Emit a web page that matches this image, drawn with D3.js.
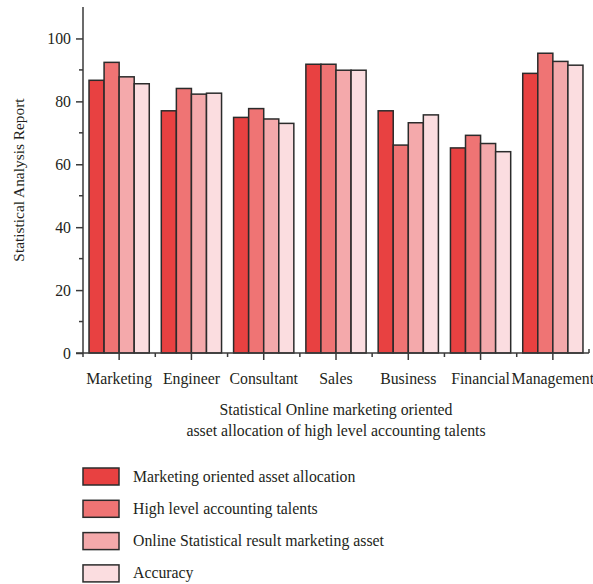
<!DOCTYPE html>
<html>
<head>
<meta charset="utf-8">
<script src="https://cdn.jsdelivr.net/npm/d3@7"></script>
<style>
  html, body { margin: 0; padding: 0; background: #fff; }
  svg { display: block; }
  text { font-family: "Liberation Serif", "DejaVu Serif", serif; fill: #231f20; }
</style>
</head>
<body>
<svg id="chart" width="593" height="584"></svg>
<script>
// Job categories along the x axis
const categories = ["Marketing", "Engineer", "Consultant", "Sales", "Business", "Financial", "Management"];

// One array per series, in category order
const seriesNames = [
  "Marketing oriented asset allocation",
  "High level accounting talents",
  "Online Statistical result marketing asset",
  "Accuracy"
];
const marketingAsset = [86.7, 77.0, 74.9, 91.8, 77.0, 65.2, 88.9];
const accountingTalents = [92.4, 84.1, 77.7, 91.8, 66.1, 69.2, 95.3];
const onlineResult = [87.8, 82.3, 74.4, 89.9, 73.2, 66.6, 92.7];
const accuracy = [85.6, 82.6, 73.0, 89.9, 75.7, 64.0, 91.5];
const seriesValues = [marketingAsset, accountingTalents, onlineResult, accuracy];

const seriesColors = ["#e84141", "#ef7474", "#f4a9ab", "#fbdde0"];

const yTicks = [0, 20, 40, 60, 80, 100];
const yMinorTicks = [10, 30, 50, 70, 90];

const FONT = "15.8px";
const svg = d3.select("#chart");
const plot = { left: 83, right: 589, top: 7, bottom: 353 };

const x = d3.scaleBand().domain(categories).range([plot.left, plot.right]).paddingInner(12 / 72).paddingOuter(6 / 72);
const xOuter = d3.scaleBand().domain(categories).range([plot.left, plot.right]);
const xInner = d3.scaleBand().domain(d3.range(seriesNames.length)).range([0, x.bandwidth()]);
const y = d3.scaleLinear().domain([0, 110]).range([plot.bottom, plot.top]);

// Bars
const groups = svg.append("g").selectAll("g")
  .data(categories)
  .join("g")
  .attr("transform", d => `translate(${x(d)},0)`);

groups.selectAll("rect")
  .data((c, ci) => seriesValues.map((vals, si) => ({ si, v: vals[ci] })))
  .join("rect")
  .attr("x", d => xInner(d.si))
  .attr("width", xInner.bandwidth())
  .attr("y", d => y(d.v))
  .attr("height", d => y(0) - y(d.v))
  .attr("fill", d => seriesColors[d.si])
  .attr("stroke", "#2b2b2b")
  .attr("stroke-width", 1.5);

// Y axis
const yAxis = svg.append("g").attr("transform", `translate(${plot.left},0)`);
yAxis.call(d3.axisLeft(y).tickValues(yTicks).tickSize(7).tickPadding(5).tickSizeOuter(0))
  .call(g => g.select(".domain").remove());
yAxis.selectAll(".tick line").attr("stroke", "#3a3a3a").attr("stroke-width", 1.5);
yAxis.selectAll(".tick text").style("font-size", FONT).style("font-family", "Liberation Serif, serif").attr("fill", "#231f20");
yAxis.selectAll(".minor").data(yMinorTicks).join("line")
  .attr("x1", -4).attr("x2", 0)
  .attr("y1", d => y(d)).attr("y2", d => y(d))
  .attr("stroke", "#3a3a3a").attr("stroke-width", 1.5);
yAxis.append("line")
  .attr("x1", 0).attr("x2", 0)
  .attr("y1", plot.top).attr("y2", plot.bottom + 4)
  .attr("stroke", "#3a3a3a").attr("stroke-width", 1.5);

// X axis
const xAxis = svg.append("g").attr("transform", `translate(0,${plot.bottom})`);
xAxis.append("line")
  .attr("x1", plot.left - 7).attr("x2", plot.right)
  .attr("stroke", "#3a3a3a").attr("stroke-width", 1.5);
xAxis.selectAll(".major").data(categories).join("line")
  .attr("x1", d => x(d) + x.bandwidth() / 2).attr("x2", d => x(d) + x.bandwidth() / 2)
  .attr("y1", 0).attr("y2", 7)
  .attr("stroke", "#3a3a3a").attr("stroke-width", 1.5);
xAxis.selectAll(".bound").data(categories.slice(1)).join("line")
  .attr("x1", d => xOuter(d)).attr("x2", d => xOuter(d))
  .attr("y1", 0).attr("y2", 4)
  .attr("stroke", "#3a3a3a").attr("stroke-width", 1.5);
xAxis.append("line")
  .attr("x1", plot.right).attr("x2", plot.right)
  .attr("y1", -4).attr("y2", 0)
  .attr("stroke", "#3a3a3a").attr("stroke-width", 1.5);
xAxis.selectAll(".lbl").data(categories).join("text")
  .attr("x", d => x(d) + x.bandwidth() / 2)
  .attr("y", 31)
  .attr("text-anchor", "middle")
  .style("font-size", FONT)
  .text(d => d);

// Axis titles
svg.append("text")
  .attr("transform", `translate(24,${(plot.top + plot.bottom) / 2}) rotate(-90)`)
  .attr("text-anchor", "middle")
  .style("font-size", "15.4px")
  .text("Statistical Analysis Report");

const xTitle = svg.append("text")
  .attr("text-anchor", "middle")
  .style("font-size", FONT);
xTitle.append("tspan").attr("x", (plot.left + plot.right) / 2).attr("y", 415).text("Statistical Online marketing oriented");
xTitle.append("tspan").attr("x", (plot.left + plot.right) / 2).attr("y", 436).text("asset allocation of high level accounting talents");

// Legend
const legend = svg.append("g").attr("transform", "translate(83,468)");
const item = legend.selectAll("g").data(seriesNames).join("g")
  .attr("transform", (d, i) => `translate(0,${i * 32.3})`);
item.append("rect")
  .attr("width", 36).attr("height", 17)
  .attr("fill", (d, i) => seriesColors[i])
  .attr("stroke", "#2b2b2b").attr("stroke-width", 1.5);
item.append("text")
  .attr("x", 50).attr("y", 13.5)
  .style("font-size", FONT)
  .text(d => d);
</script>
</body>
</html>
